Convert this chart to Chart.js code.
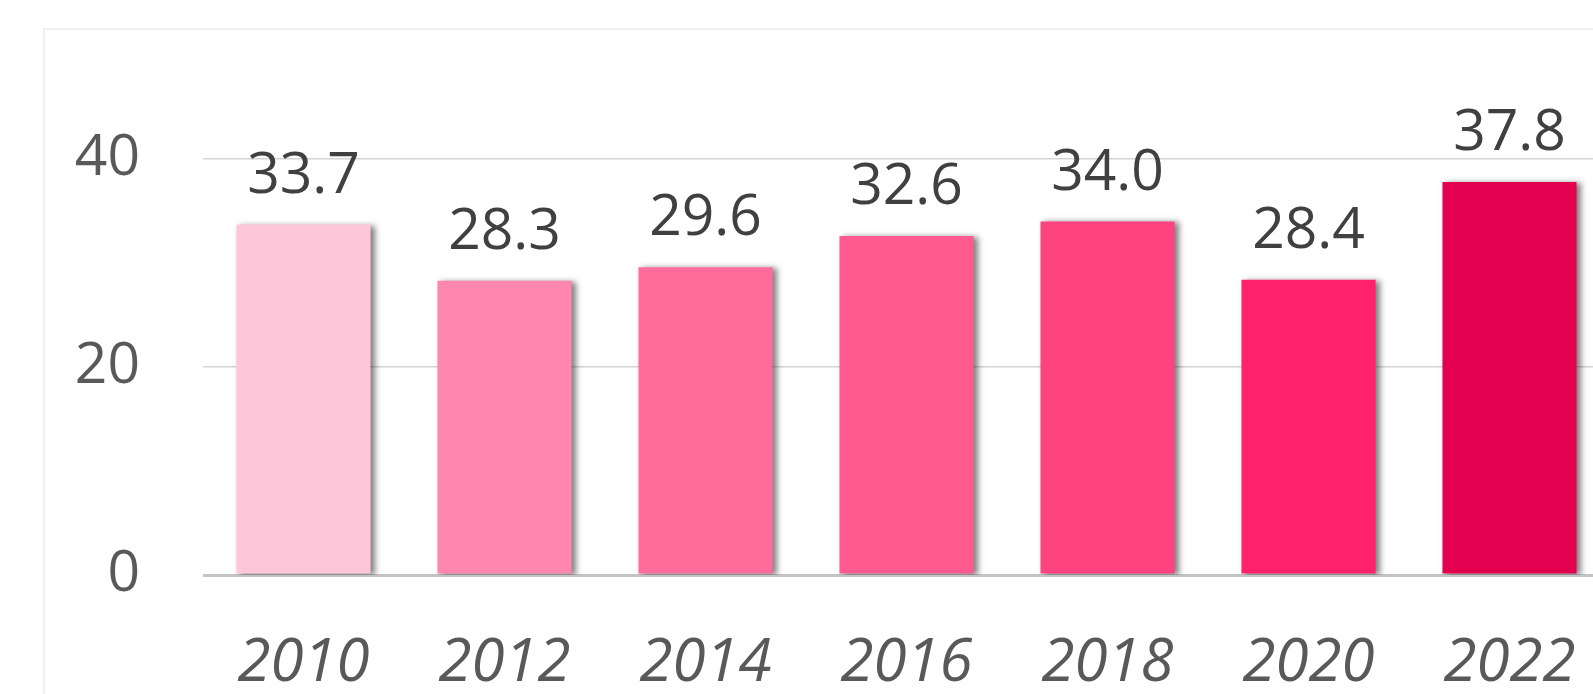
<!DOCTYPE html>
<html>
<head>
<meta charset="utf-8">
<script src="https://cdn.jsdelivr.net/npm/chart.js@4/dist/chart.umd.min.js"></script>
<style>
  html, body { margin: 0; padding: 0; background: #fff; overflow: hidden; width: 1593px; height: 694px; }
  canvas { display: block; }
</style>
</head>
<body>
<canvas id="barChart" width="1612" height="694"></canvas>
<script>
// --- Data ---
const years = ['2010', '2012', '2014', '2016', '2018', '2020', '2022'];
const values = [33.7, 28.3, 29.6, 32.6, 34.0, 28.4, 37.8];
const barColors = ['#FFC6DA', '#FF86AE', '#FF6C9C', '#FF5B91', '#FF4380', '#FF216C', '#E3004E'];
const yTicks = [0, 20, 40];

const FONT = "'Open Sans', 'Noto Sans', sans-serif";

// light frame around the chart, cropped on the right/bottom
const framePlugin = {
    id: 'frame',
    beforeDraw(chart) {
        const c = chart.ctx;
        c.save();
        c.strokeStyle = '#efefef';
        c.lineWidth = 2;
        c.beginPath();
        c.moveTo(44, 720);
        c.lineTo(44, 29);
        c.lineTo(1700, 29);
        c.stroke();
        c.restore();
    }
};

// soft drop shadow on the bars
const shadowPlugin = {
    id: 'barShadow',
    beforeDatasetsDraw(chart) {
        const c = chart.ctx;
        c.save();
        c.shadowColor = 'rgba(0, 0, 0, 0.5)';
        c.shadowBlur = 6;
        c.shadowOffsetX = 4;
        c.shadowOffsetY = 1;
    },
    afterDatasetsDraw(chart) {
        chart.ctx.restore();
    }
};

// value labels above each bar
const valueLabels = {
    id: 'valueLabels',
    afterDatasetsDraw(chart) {
        const c = chart.ctx;
        const meta = chart.getDatasetMeta(0);
        c.save();
        c.font = '57px ' + FONT;
        c.fillStyle = '#404040';
        c.textAlign = 'center';
        c.textBaseline = 'middle';
        meta.data.forEach((bar, i) => {
            c.fillText(values[i].toFixed(1), bar.x, bar.y - 48);
        });
        c.restore();
    }
};

const ctx = document.getElementById('barChart').getContext('2d');

new Chart(ctx, {
    type: 'bar',
    data: {
        labels: years,
        datasets: [{
            data: values,
            backgroundColor: barColors,
            borderWidth: 0,
            categoryPercentage: 1,
            barPercentage: 0.667
        }]
    },
    options: {
        responsive: false,
        animation: false,
        layout: { padding: { top: 55, right: 2, left: 0, bottom: 0 } },
        plugins: {
            legend: { display: false },
            tooltip: { enabled: false }
        },
        scales: {
            x: {
                grid: { display: false, drawTicks: false },
                border: { display: false },
                ticks: {
                    color: '#595959',
                    padding: 53,
                    font: { family: FONT, size: 60, style: 'italic' }
                },
                afterFit(axis) {
                    axis.height = 119;
                    axis.paddingLeft = 0;
                    axis.paddingRight = 0;
                }
            },
            y: {
                min: 0,
                max: 50,
                afterBuildTicks(axis) {
                    axis.ticks = yTicks.map(v => ({ value: v }));
                },
                grid: {
                    drawTicks: false,
                    color: c => c.tick && c.tick.value === 0 ? '#c4c4c4' : '#d4d4d4',
                    lineWidth: c => c.tick && c.tick.value === 0 ? 3 : 1.5
                },
                border: { display: false },
                ticks: {
                    color: '#595959',
                    padding: 63,
                    font: { family: FONT, size: 57 }
                },
                afterFit(axis) {
                    axis.width = 203;
                    axis.paddingTop = 0;
                    axis.paddingBottom = 0;
                }
            }
        }
    },
    plugins: [framePlugin, shadowPlugin, valueLabels]
});
</script>
</body>
</html>
